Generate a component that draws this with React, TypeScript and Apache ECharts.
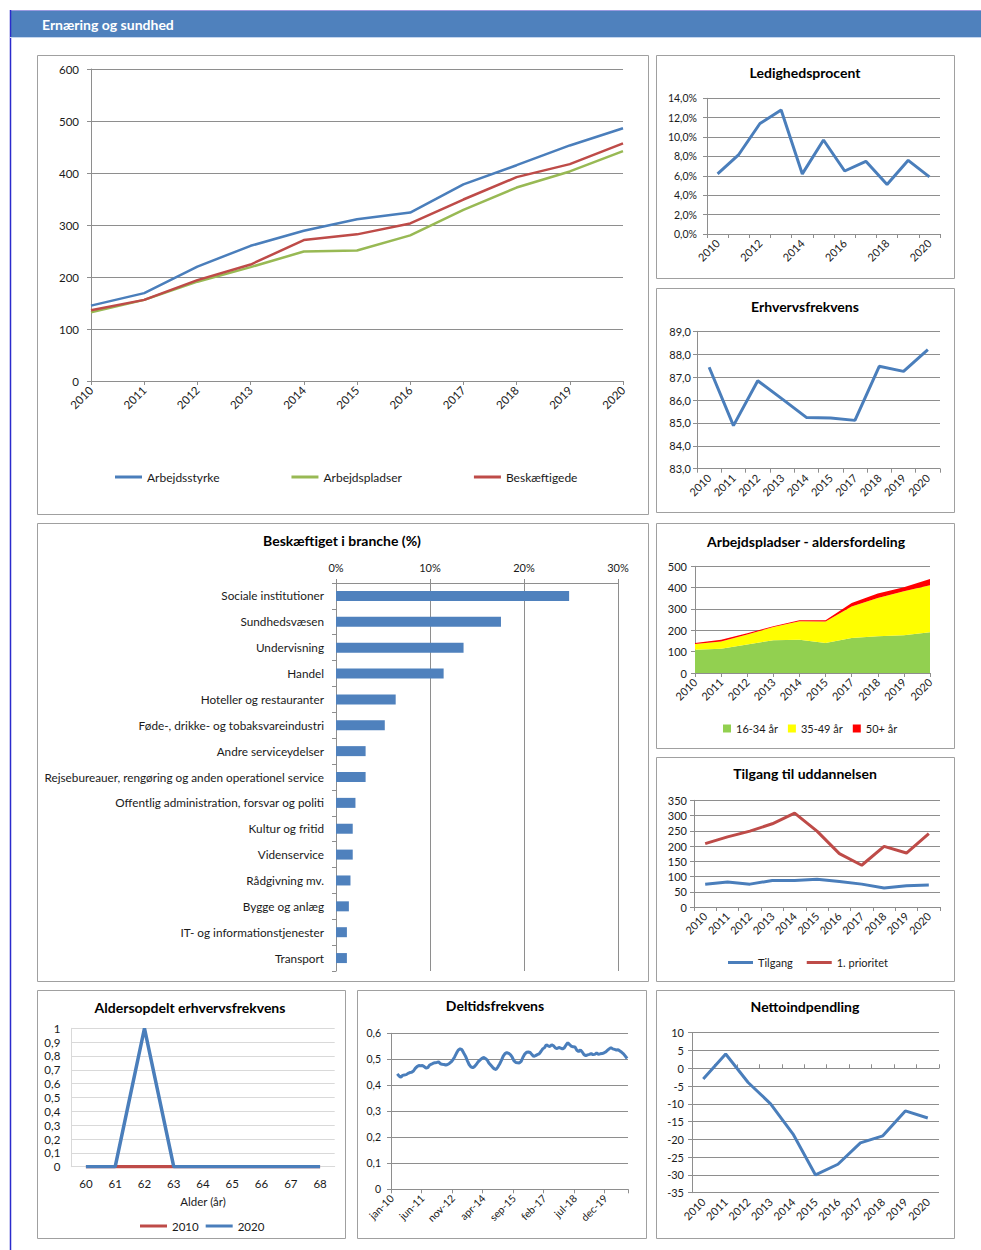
import React, { useEffect, useRef } from "react";
import * as echarts from "echarts";

// ---------- DATA ----------
const years = ["2010", "2011", "2012", "2013", "2014", "2015", "2016", "2017", "2018", "2019", "2020"];
const yearsNo2016 = ["2010", "2011", "2012", "2013", "2014", "2015", "2017", "2018", "2019", "2020"];

const arbejdsstyrke = [145, 169, 220, 260, 289, 311, 324, 378, 415, 453, 486];
const arbejdspladser = [132, 156, 191, 219, 249, 251, 280, 329, 372, 403, 442];
const beskaeftigede = [136, 156, 194, 224, 271, 282, 303, 349, 392, 417, 457];

const ledighed = [6.2, 8.2, 11.4, 12.8, 6.2, 9.7, 6.5, 7.5, 5.1, 7.6, 5.9];
const erhverv = [87.43, 84.88, 86.84, 86.05, 85.24, 85.21, 85.11, 87.47, 87.25, 88.2];

const brancher = [
  "Sociale institutioner",
  "Sundhedsvæsen",
  "Undervisning",
  "Handel",
  "Hoteller og restauranter",
  "Føde-, drikke- og tobaksvareindustri",
  "Andre serviceydelser",
  "Rejsebureauer, rengøring og anden operationel service",
  "Offentlig administration, forsvar og politi",
  "Kultur og fritid",
  "Videnservice",
  "Rådgivning mv.",
  "Bygge og anlæg",
  "IT- og informationstjenester",
  "Transport",
];
const brancheValues = [24.8, 17.55, 13.57, 11.45, 6.35, 5.19, 3.15, 3.15, 2.07, 1.78, 1.78, 1.54, 1.37, 1.16, 1.16];

const age1634 = [109, 114, 134, 153, 156, 141, 164, 172, 177, 191];
const age3549 = [27, 34, 46, 63, 86, 100, 148, 180, 206, 220];
const age50 = [5, 8, 6, 3, 5, 6, 16, 20, 19, 30];

const tilgang = [75, 82, 75, 87, 87, 91, 84, 75, 62, 70, 72];
const prioritet = [208, 230, 249, 273, 308, 249, 175, 137, 199, 177, 241];

const ages = ["60", "61", "62", "63", "64", "65", "66", "67", "68"];
const alder2010 = [0, 0, 0, 0, 0, 0, 0, 0, 0];
const alder2020 = [0, 0, 1, 0, 0, 0, 0, 0, 0];

const monthNames = ["jan", "feb", "mar", "apr", "maj", "jun", "jul", "aug", "sep", "okt", "nov", "dec"];
const monthYears = ["10", "11", "12", "13", "14", "15", "16", "17", "18", "19", "20"];
const deltidMonths = monthYears.flatMap((y) => monthNames.map((m) => `${m}-${y}`));
const deltid = [
  null, null, null,
  0.444, 0.436, 0.431, 0.438, 0.44, 0.441, 0.446, 0.449, 0.45, 0.455,
  0.465, 0.472, 0.476, 0.475, 0.476, 0.472, 0.466, 0.468, 0.478, 0.481,
  0.485, 0.487, 0.488, 0.49, 0.483, 0.481, 0.48, 0.478, 0.48, 0.484,
  0.49, 0.498, 0.51, 0.524, 0.536, 0.54, 0.537, 0.524, 0.512, 0.495,
  0.48, 0.471, 0.468, 0.472, 0.48, 0.49, 0.497, 0.503, 0.507, 0.504,
  0.498, 0.486, 0.478, 0.47, 0.463, 0.461, 0.47, 0.482, 0.496, 0.512,
  0.522, 0.526, 0.523, 0.518, 0.508, 0.494, 0.488, 0.487, 0.486, 0.492,
  0.508, 0.52, 0.527, 0.528, 0.526, 0.518, 0.511, 0.514, 0.518, 0.521,
  0.53, 0.54, 0.545, 0.556, 0.552, 0.549, 0.556, 0.552, 0.544, 0.541,
  0.546, 0.543, 0.54, 0.544, 0.555, 0.564, 0.556, 0.55, 0.548, 0.547,
  0.535, 0.53, 0.536, 0.528, 0.518, 0.514, 0.517, 0.519, 0.522, 0.518,
  0.519, 0.524, 0.519, 0.521, 0.522, 0.524, 0.528, 0.534, 0.54, 0.545,
  0.54, 0.538, 0.536, 0.537, 0.532, 0.527, 0.521, 0.512, 0.503,
];

const netto = [-3, 4, -4, -10, -18.5, -30, -27, -21, -19, -12, -14];

// ---------- STYLE ----------
const FONT = 'Lato, "Open Sans", sans-serif';
const TXT = "#1a1a1a";
const GRIDC = "#8e8e8e";
const LIGHT = "#d9d9d9";
const BLUE = "#4a7ebb";
const RED = "#be4b48";
const GREEN = "#98b954";

const comma = (v: number, d: number) => v.toFixed(d).replace(".", ",");

function title(text: string, x: number, y: number, size = 14) {
  return {
    text,
    left: x,
    top: y,
    textAlign: "center",
    padding: 0,
    textStyle: { fontSize: size, fontWeight: "bold", color: "#000", fontFamily: FONT },
  };
}

function catX(gridIndex: number, data: string[], extra: any = {}) {
  const { axisLabel = {}, axisTick = {}, axisLine = {}, ...rest } = extra;
  return {
    gridIndex,
    type: "category",
    data,
    boundaryGap: true,
    axisLine: { show: true, lineStyle: { color: GRIDC, width: 1 }, ...axisLine },
    axisTick: { show: true, length: 4, interval: 0, lineStyle: { color: GRIDC }, ...axisTick },
    axisLabel: { rotate: 45, interval: 0, fontSize: 11, color: TXT, fontFamily: FONT, margin: 7, ...axisLabel },
    splitLine: { show: false },
    ...rest,
  };
}

function valY(gridIndex: number, min: number, max: number, interval: number, extra: any = {}) {
  const { axisLabel = {}, axisTick = {}, axisLine = {}, splitLine = {}, ...rest } = extra;
  return {
    gridIndex,
    type: "value",
    min,
    max,
    interval,
    axisLine: { show: true, lineStyle: { color: GRIDC, width: 1 }, ...axisLine },
    axisTick: { show: true, length: 4, lineStyle: { color: GRIDC }, ...axisTick },
    axisLabel: { fontSize: 11, color: TXT, fontFamily: FONT, margin: 8, ...axisLabel },
    splitLine: { show: true, lineStyle: { color: GRIDC, width: 1 }, ...splitLine },
    ...rest,
  };
}

function line(name: string, data: any[], color: string, xi: number, yi: number, width = 2.5) {
  return {
    name,
    type: "line",
    data,
    xAxisIndex: xi,
    yAxisIndex: yi,
    symbol: "none",
    connectNulls: false,
    lineStyle: { color, width },
    itemStyle: { color },
  };
}

const panels = [
  [37, 55, 611, 459],
  [656, 55, 298, 223],
  [656, 288, 298, 224],
  [37, 523, 611, 458],
  [656, 523, 298, 225],
  [656, 757, 298, 224],
  [37, 990, 308, 248],
  [357, 990, 289, 248],
  [656, 990, 298, 248],
];

export default function App() {
  const ref = useRef<HTMLDivElement>(null);

  useEffect(() => {
    if (!ref.current) return;
    const chart = echarts.init(ref.current, null, { renderer: "svg" });

    const graphic: any[] = [
      { type: "rect", silent: true, shape: { x: 10, y: 10, width: 971, height: 27 }, style: { fill: "#4f81bd" } },
      { type: "line", silent: true, shape: { x1: 10, y1: 10.5, x2: 981, y2: 10.5 }, style: { stroke: "#9a9ae0", lineWidth: 1 } },
      { type: "line", silent: true, shape: { x1: 10.5, y1: 10, x2: 10.5, y2: 1250 }, style: { stroke: "#2b2bcc", lineWidth: 1.5 } },
      { type: "line", silent: true, shape: { x1: 10, y1: 37.5, x2: 981, y2: 37.5 }, style: { stroke: "#c5d6ee", lineWidth: 1 } },
      {
        type: "text",
        silent: true,
        x: 42,
        y: 24,
        style: { text: "Ernæring og sundhed", fill: "#ffffff", font: `bold 14px ${FONT}`, verticalAlign: "middle" },
      },
      ...panels.map(([x, y, w, h]) => ({
        type: "rect",
        silent: true,
        z: -1,
        shape: { x: x + 0.5, y: y + 0.5, width: w, height: h },
        style: { fill: "none", stroke: "#a0a0a0", lineWidth: 1 },
      })),
    ];

    const option: any = {
      animation: false,
      backgroundColor: "#ffffff",
      textStyle: { fontFamily: FONT },
      graphic,
      title: [
        title("Ledighedsprocent", 805, 65),
        title("Erhvervsfrekvens", 805, 299),
        title("Beskæftiget i branche (%)", 342, 533),
        title("Arbejdspladser - aldersfordeling", 806, 534),
        title("Tilgang til uddannelsen", 805, 766),
        title("Aldersopdelt erhvervsfrekvens", 190, 1000),
        title("Deltidsfrekvens", 495, 998),
        title("Nettoindpendling", 805, 999),
      ],
      legend: [
        {
          data: ["Arbejdsstyrke", "Arbejdspladser", "Beskæftigede"],
          left: 115,
          top: 471,
          padding: 0,
          icon: "rect",
          itemWidth: 27,
          itemHeight: 3,
          itemGap: 72,
          textStyle: { fontSize: 12, color: TXT, fontFamily: FONT },
        },
        {
          data: ["16-34 år", "35-49 år", "50+ år"],
          left: 723,
          top: 723,
          padding: 0,
          icon: "rect",
          itemWidth: 8,
          itemHeight: 8,
          itemGap: 10,
          textStyle: { fontSize: 11, color: TXT, fontFamily: FONT },
        },
        {
          data: ["Tilgang", "1. prioritet"],
          left: 728,
          top: 957,
          padding: 0,
          icon: "rect",
          itemWidth: 25,
          itemHeight: 3,
          itemGap: 14,
          textStyle: { fontSize: 11, color: TXT, fontFamily: FONT },
        },
        {
          data: ["2010", "2020"],
          left: 140,
          top: 1220,
          padding: 0,
          icon: "rect",
          itemWidth: 27,
          itemHeight: 3,
          itemGap: 7,
          textStyle: { fontSize: 11.5, color: TXT, fontFamily: FONT },
        },
      ],
      grid: [
        { left: 91, top: 69, width: 532, height: 312 },
        { left: 707, top: 98.3, width: 233, height: 135.7 },
        { left: 697, top: 331.3, width: 243, height: 137.4 },
        { left: 336, top: 583, width: 282, height: 388 },
        { left: 695, top: 566.3, width: 235, height: 106.7 },
        { left: 694, top: 800.3, width: 246, height: 106.7 },
        { left: 71.3, top: 1028.3, width: 263.4, height: 138.4 },
        { left: 391, top: 1033.3, width: 237, height: 156 },
        { left: 692, top: 1032.7, width: 247, height: 160 },
      ],
      xAxis: [
        catX(0, years, { boundaryGap: false, axisLabel: { fontSize: 11.5 } }),
        catX(1, years, { axisLabel: { interval: 1 } }),
        catX(2, yearsNo2016),
        {
          gridIndex: 3,
          type: "value",
          position: "top",
          min: 0,
          max: 30,
          interval: 10,
          axisLine: { show: true, lineStyle: { color: GRIDC } },
          axisTick: { show: true, length: 4, lineStyle: { color: GRIDC } },
          axisLabel: { formatter: "{value}%", fontSize: 11, color: TXT, fontFamily: FONT, margin: 10 },
          splitLine: { show: true, lineStyle: { color: GRIDC } },
        },
        catX(4, yearsNo2016, { boundaryGap: false }),
        catX(5, years),
        catX(6, ages, {
          axisLine: { lineStyle: { color: LIGHT } },
          axisTick: { show: false },
          axisLabel: { rotate: 0, margin: 11, fontSize: 11.5 },
          name: "Alder (år)",
          nameLocation: "middle",
          nameGap: 29,
          nameTextStyle: { fontSize: 11.5, color: TXT, fontFamily: FONT },
        }),
        catX(7, deltidMonths, {
          axisLabel: { interval: 16, fontSize: 10.5 },
          axisTick: { interval: 16 },
        }),
        catX(8, years, {
          axisLine: { show: false, onZero: false },
          axisTick: { show: false },
        }),
        catX(8, years, {
          axisLine: { show: true, onZero: true },
          axisLabel: { show: false },
        }),
      ],
      yAxis: [
        valY(0, 0, 600, 100, { axisLabel: { margin: 12, fontSize: 11.5 } }),
        valY(1, 0, 14, 2, { axisLabel: { fontSize: 10.5, margin: 10, formatter: (v: number) => comma(v, 1) + "%" } }),
        valY(2, 83, 89, 1, { axisLabel: { margin: 6, formatter: (v: number) => comma(v, 1) } }),
        {
          gridIndex: 3,
          type: "category",
          data: brancher,
          inverse: true,
          boundaryGap: true,
          axisLine: { show: true, lineStyle: { color: GRIDC } },
          axisTick: { show: true, length: 4, interval: 0, lineStyle: { color: GRIDC } },
          axisLabel: { interval: 0, fontSize: 11.75, color: TXT, fontFamily: FONT, margin: 12 },
          splitLine: { show: false },
        },
        valY(4, 0, 500, 100, { axisLabel: { margin: 8 } }),
        valY(5, 0, 350, 50, { axisLabel: { margin: 7 } }),
        valY(6, 0, 1, 0.1, {
          axisLine: { lineStyle: { color: LIGHT } },
          axisTick: { show: false },
          splitLine: { lineStyle: { color: LIGHT } },
          axisLabel: {
            margin: 11,
            fontSize: 11.5,
            formatter: (v: number) => String(Math.round(v * 10) / 10).replace(".", ","),
          },
        }),
        valY(7, 0, 0.6, 0.1, {
          axisLabel: {
            fontSize: 10.5,
            margin: 10,
            formatter: (v: number) => (Math.abs(v) < 1e-9 ? "0" : comma(v, 1)),
          },
        }),
        valY(8, -35, 10, 5, { axisLabel: { margin: 8 } }),
      ],
      series: [
        line("Arbejdsstyrke", arbejdsstyrke, BLUE, 0, 0),
        line("Arbejdspladser", arbejdspladser, GREEN, 0, 0),
        line("Beskæftigede", beskaeftigede, RED, 0, 0),
        line("Ledighedsprocent", ledighed, BLUE, 1, 1, 3),
        line("Erhvervsfrekvens", erhverv, BLUE, 2, 2, 3),
        {
          name: "Beskæftiget i branche",
          type: "bar",
          data: brancheValues,
          xAxisIndex: 3,
          yAxisIndex: 3,
          barWidth: 10,
          itemStyle: { color: "#4f81bd" },
        },
        ...[
          ["16-34 år", age1634, "#92d050"],
          ["35-49 år", age3549, "#ffff00"],
          ["50+ år", age50, "#ff0000"],
        ].map(([name, data, color]: any) => ({
          name,
          type: "line",
          data,
          stack: "alder",
          xAxisIndex: 4,
          yAxisIndex: 4,
          symbol: "none",
          lineStyle: { width: 0, color },
          areaStyle: { color, opacity: 1 },
          itemStyle: { color },
        })),
        line("Tilgang", tilgang, BLUE, 5, 5, 3),
        line("1. prioritet", prioritet, RED, 5, 5, 3),
        line("2010", alder2010, RED, 6, 6, 3.5),
        line("2020", alder2020, BLUE, 6, 6, 3.5),
        line("Deltidsfrekvens", deltid, BLUE, 7, 7, 3),
        line("Nettoindpendling", netto, BLUE, 8, 8, 3),
      ],
    };

    chart.setOption(option);
    return () => chart.dispose();
  }, []);

  return (
    <div
      ref={ref}
      style={{ position: "absolute", left: 0, top: 0, width: 981, height: 1250, background: "#fff" }}
    />
  );
}
